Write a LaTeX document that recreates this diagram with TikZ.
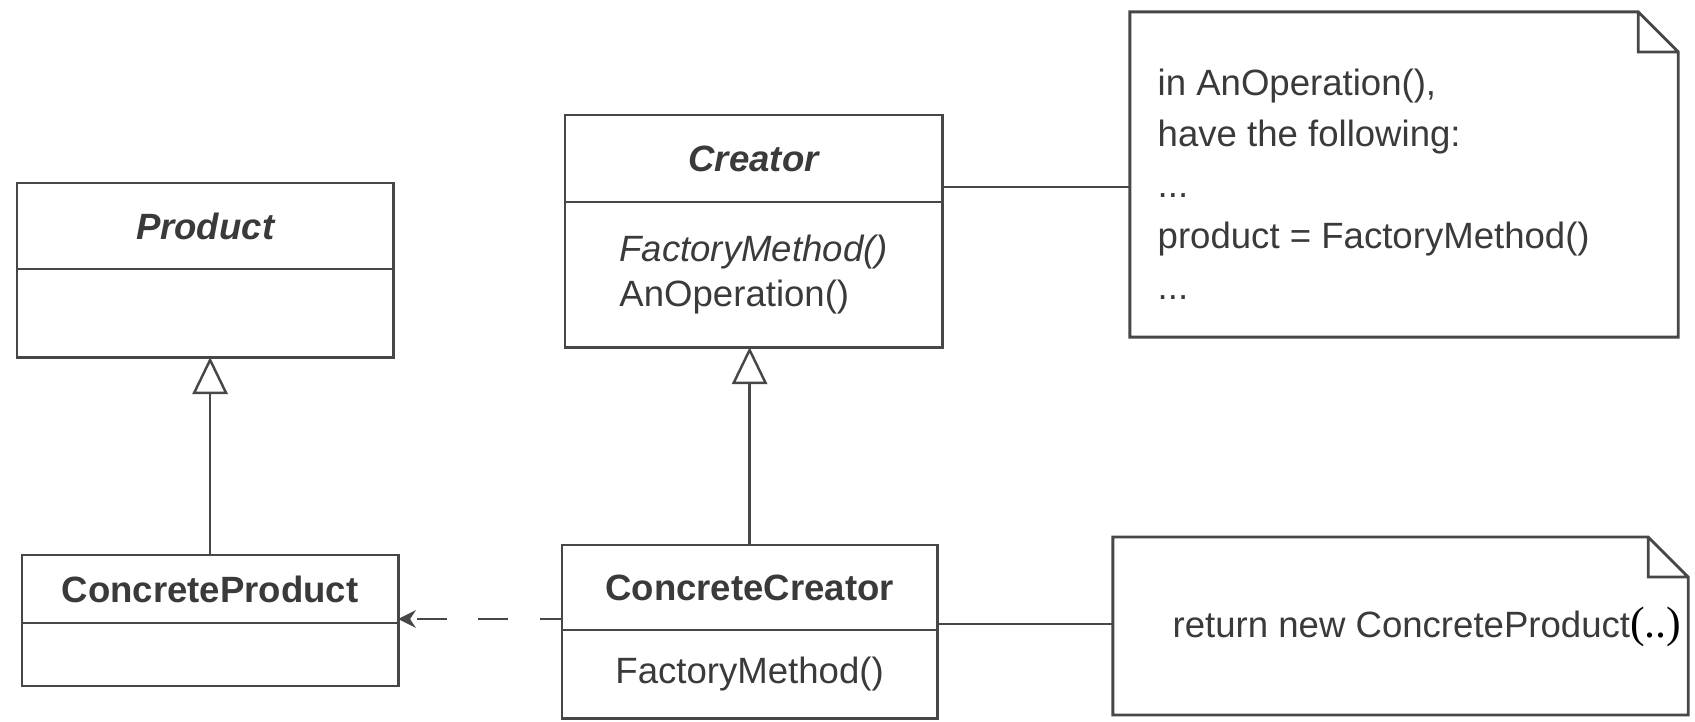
\documentclass[tikz,border=0pt]{standalone}
\usepackage{fontspec}
\setmainfont{Liberation Sans}
\newfontfamily\serifpart{Liberation Serif}
\usetikzlibrary{arrows.meta, calc}
\definecolor{umlline}{HTML}{474747}
\definecolor{umltext}{HTML}{3A3A3A}
\newcommand{\umlfont}{\fontsize{10.4}{12.8}\selectfont}
\tikzset{every node/.append style = {font = \umlfont, text = umltext}}
\tikzset{outline/.style = {draw = umlline, line width = 0.8pt}}
\tikzset{classbox/.style = {outline, anchor = north west, inner sep = 0pt, outer sep = 0pt, minimum width = 3.76cm}}
\tikzset{classname/.style = {font = \umlfont\bfseries}}
\tikzset{abstractname/.style = {font = \umlfont\bfseries\itshape}}
\tikzset{link/.style = {draw = umlline, line width = 0.7pt}}
\tikzset{inherit/.style = {link, -{Triangle[open, length = 10.5pt, width = 10pt]}}}
\tikzset{depend/.style = {link, dash pattern = on 8.5pt off 9pt, dash phase = 2.2pt, -{Stealth[length = 5pt, width = 5pt]}}}

\begin{document}
\begin{tikzpicture}[x = 0.01cm, y = -0.01cm]
\useasboundingbox (0,0) rectangle (1695,721);
\node[classbox, abstractname, minimum height = 0.86cm] (product) at (17,183) {Product};
\node[classbox, minimum height = 0.88cm] (product-body) at (product.south west) {};
\node[classbox, classname, minimum height = 0.68cm] (cproduct) at (22,555) {ConcreteProduct};
\node[classbox, minimum height = 0.63cm] (cproduct-body) at (cproduct.south west) {};
\node[classbox, abstractname, minimum width = 3.77cm, minimum height = 0.87cm] (creator) at (565,115) {Creator};
\node[classbox, minimum width = 3.77cm, minimum height = 1.45cm, align = left] (creator-ops) at (creator.south west) {\textit{FactoryMethod()}\\AnOperation()};
\node[classbox, classname, minimum width = 3.75cm, minimum height = 0.85cm] (ccreator) at (562,545) {ConcreteCreator};
\node[classbox, minimum width = 3.75cm, minimum height = 0.88cm] (ccreator-ops) at (ccreator.south west) {FactoryMethod()};
\node[inner sep = 0pt, outer sep = 0pt, minimum width = 5.48cm, minimum height = 3.25cm] (note1) at (1404,174.5) {};
\node[anchor = west, align = left, inner sep = 0pt, font = \fontsize{10.4}{14.5}\selectfont] (note1-text) at (1157,184) {in AnOperation(),\\have the following:\\...\\product = FactoryMethod()\\...};
\node[inner sep = 0pt, outer sep = 0pt, minimum width = 5.75cm, minimum height = 1.78cm] (note2) at (1400.5,626) {};
\node[anchor = base west, inner sep = 0pt] (note2-text) at (1172,637) {return new ConcreteProduct{\serifpart\color{black}\fontsize{12.5}{14}\selectfont(..)}};
\foreach \n in {note1, note2}
  \draw[outline] (\n.north west) -- ([xshift = -0.4cm]\n.north east) -- ([yshift = -0.4cm]\n.north east) -- (\n.south east) -- (\n.south west) -- cycle
    ([xshift = -0.4cm]\n.north east) |- ([yshift = -0.4cm]\n.north east);
\draw[inherit] (cproduct.north) -- (cproduct.north |- product-body.south);
\draw[inherit] (ccreator.north) -- (ccreator.north |- creator-ops.south);
\draw[link] (creator.east |- 0,187) -- (note1.west |- 0,187);
\draw[link] (ccreator.east |- 0,624) -- (note2.west |- 0,624);
\draw[depend] (ccreator.west |- 0,619) -- (cproduct.east |- 0,619);
\end{tikzpicture}
\end{document}
